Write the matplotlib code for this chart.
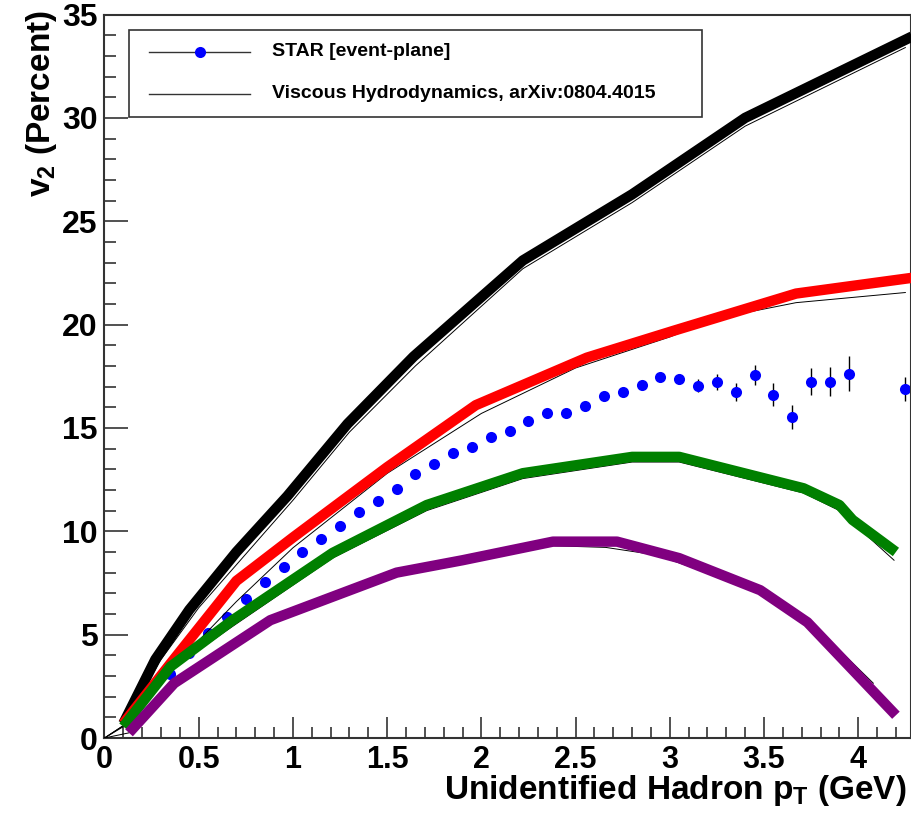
import matplotlib
matplotlib.use('Agg')
import matplotlib.pyplot as plt
from matplotlib.lines import Line2D
from matplotlib.patches import Rectangle
from matplotlib.ticker import MultipleLocator, FuncFormatter

plt.rcParams['font.family'] = ['Liberation Sans', 'DejaVu Sans']
plt.rcParams['font.weight'] = 'bold'
plt.rcParams['mathtext.fontset'] = 'custom'
plt.rcParams['mathtext.rm'] = 'Liberation Sans:bold'
plt.rcParams['mathtext.it'] = 'Liberation Sans:bold'
plt.rcParams['mathtext.bf'] = 'Liberation Sans:bold'
plt.rcParams['mathtext.default'] = 'rm'

# STAR event-plane v2 (percent) vs pT
star_pt = [0.35, 0.45, 0.55, 0.65, 0.75, 0.85, 0.95, 1.05, 1.15, 1.25,
           1.35, 1.45, 1.55, 1.65, 1.75, 1.85, 1.95, 2.05, 2.15, 2.25,
           2.35, 2.45, 2.55, 2.65, 2.75, 2.85, 2.95, 3.05, 3.15, 3.25,
           3.35, 3.45, 3.55, 3.65, 3.75, 3.85, 3.95, 4.25]
star_v2 = [3.1, 4.1, 5.07, 5.87, 6.71, 7.53, 8.29, 8.98, 9.61, 10.27,
           10.95, 11.46, 12.03, 12.76, 13.26, 13.77, 14.09, 14.55, 14.85, 15.35,
           15.74, 15.74, 16.06, 16.56, 16.75, 17.06, 17.45, 17.37, 17.05, 17.22,
           16.72, 17.56, 16.61, 15.53, 17.24, 17.24, 17.62, 16.9]
star_err = [0.05, 0.05, 0.05, 0.05, 0.05, 0.05, 0.05, 0.05, 0.05, 0.05,
            0.06, 0.06, 0.06, 0.07, 0.07, 0.08, 0.08, 0.09, 0.1, 0.1,
            0.11, 0.12, 0.13, 0.14, 0.15, 0.17, 0.2, 0.25, 0.3, 0.37,
            0.43, 0.48, 0.54, 0.58, 0.65, 0.7, 0.85, 0.58]

# viscous hydro curves (thick coloured)
black_x = [0.1, 0.27, 0.45, 0.7, 0.97, 1.29, 1.64, 2.22, 2.8, 3.4, 4.3]
black_y = [0.7, 3.8, 6.2, 9.0, 11.7, 15.2, 18.45, 23.1, 26.3, 30.0, 34.0]
red_x = [0.1, 0.35, 0.7, 1.0, 1.5, 1.97, 2.56, 3.02, 3.67, 4.3]
red_y = [0.7, 3.6, 7.6, 9.7, 13.1, 16.1, 18.4, 19.7, 21.5, 22.28]
green_x = [0.1, 0.35, 0.68, 1.21, 1.71, 2.22, 2.8, 3.05, 3.71, 3.9, 3.97, 4.2]
green_y = [0.55, 3.45, 5.7, 8.95, 11.27, 12.81, 13.6, 13.6, 12.08, 11.27, 10.55, 9.0]
purple_x = [0.13, 0.37, 0.88, 1.55, 1.9, 2.38, 2.72, 3.05, 3.48, 3.73, 4.2]
purple_y = [0.25, 2.65, 5.7, 8.0, 8.6, 9.5, 9.5, 8.7, 7.15, 5.6, 1.1]

# thin black companion curves
tblack_x = [0.0, 0.1, 0.3, 0.5, 0.75, 1.0, 1.3, 1.65, 2.22, 2.8, 3.4, 4.25]
tblack_y = [0.0, 0.6, 3.8, 6.3, 8.9, 11.5, 14.8, 18.0, 22.7, 25.9, 29.6, 33.4]
tred_x = [0.0, 0.1, 0.35, 0.7, 1.0, 1.5, 2.0, 2.5, 3.0, 3.25, 3.67, 4.25]
tred_y = [0.0, 0.6, 3.3, 6.6, 9.2, 12.8, 15.7, 17.9, 19.4, 20.3, 21.06, 21.55]
tgreen_x = [0.0, 0.1, 0.35, 0.68, 1.21, 1.71, 2.22, 2.8, 3.05, 3.71, 3.9, 4.19]
tgreen_y = [0.0, 0.55, 3.3, 5.4, 8.7, 11.0, 12.55, 13.35, 13.35, 11.85, 11.0, 8.6]
tpurple_x = [0.0, 0.13, 0.37, 0.88, 1.55, 1.9, 2.38, 2.66, 2.93, 3.48, 3.81, 4.08]
tpurple_y = [0.0, 0.25, 2.55, 5.6, 7.9, 8.5, 9.3, 9.22, 8.85, 7.1, 5.06, 2.65]

W, H = 912, 817
fig = plt.figure(figsize=(W / 100, H / 100), dpi=100)
ax = fig.add_axes([104.5 / W, 79 / H, 806.5 / W, 723.5 / H])

# points first, thin lines, then thick curves on top
ax.errorbar(star_pt, star_v2, yerr=star_err, fmt='o', color='#0000ff', ms=8,
            mew=0, ecolor='black', elinewidth=1.0, capsize=3.5, capthick=1.0, zorder=2)

for tx, ty in [(tblack_x, tblack_y), (tred_x, tred_y), (tgreen_x, tgreen_y), (tpurple_x, tpurple_y)]:
    ax.plot(tx, ty, color='black', lw=0.7, zorder=3)

for cx, cy, col in [(black_x, black_y, 'black'), (red_x, red_y, '#ff0000'),
                    (green_x, green_y, '#008000'), (purple_x, purple_y, '#800080')]:
    ax.plot(cx, cy, color=col, lw=7.5, solid_capstyle='butt', solid_joinstyle='round', zorder=4)

ax.set_xlim(0, 4.28)
ax.set_ylim(0, 35)

ax.xaxis.set_major_locator(MultipleLocator(0.5))
ax.xaxis.set_minor_locator(MultipleLocator(0.1))
ax.yaxis.set_major_locator(MultipleLocator(5))
ax.yaxis.set_minor_locator(MultipleLocator(1))
ax.xaxis.set_major_formatter(FuncFormatter(lambda v, p: '%g' % v))
ax.yaxis.set_major_formatter(FuncFormatter(lambda v, p: '%g' % v))

ax.tick_params(axis='both', which='both', direction='in', top=False, right=False,
               color='#333333', width=1.2)
ax.tick_params(axis='x', which='major', length=15, pad=5, labelsize=22)
ax.tick_params(axis='x', which='minor', length=8)
ax.tick_params(axis='y', which='major', length=17, pad=5, labelsize=23)
ax.tick_params(axis='y', which='minor', length=8.5)
for lab in ax.get_xticklabels() + ax.get_yticklabels():
    lab.set_fontweight('bold')
for sp in ax.spines.values():
    sp.set_color('#333333')
    sp.set_linewidth(1.5)

# axis titles
fig.text(907 / W, 1 - 773 / H, 'Unidentified Hadron p$_{T}$ (GeV)', ha='right', va='top',
         fontsize=24, fontweight='bold')
fig.text(42 / W, 1 - 10 / H, 'v$_{2}$ (Percent)', rotation=90, ha='center', va='top',
         fontsize=24, fontweight='bold')

# legend box
fig.add_artist(Rectangle((129 / W, 1 - 116.5 / H), (702 - 129) / W, (116.5 - 30) / H,
                         transform=fig.transFigure, facecolor='white', edgecolor='#333333',
                         lw=1.2, zorder=5))
rows = [(52, 'STAR [event-plane]', True), (94, 'Viscous Hydrodynamics, arXiv:0804.4015', False)]
for ry, label, with_marker in rows:
    yy = 1 - ry / H
    fig.add_artist(Line2D([149 / W, 250 / W], [yy, yy], transform=fig.transFigure,
                          color='#333333', lw=1.0, zorder=6))
    if with_marker:
        fig.add_artist(Line2D([200 / W], [yy], transform=fig.transFigure, marker='o',
                              ms=8, mew=0, color='#0000ff', zorder=7))
    fig.text(272 / W, yy, label, ha='left', va='center', fontsize=14, fontweight='bold', zorder=7)

fig.savefig('out.png', dpi=100)
